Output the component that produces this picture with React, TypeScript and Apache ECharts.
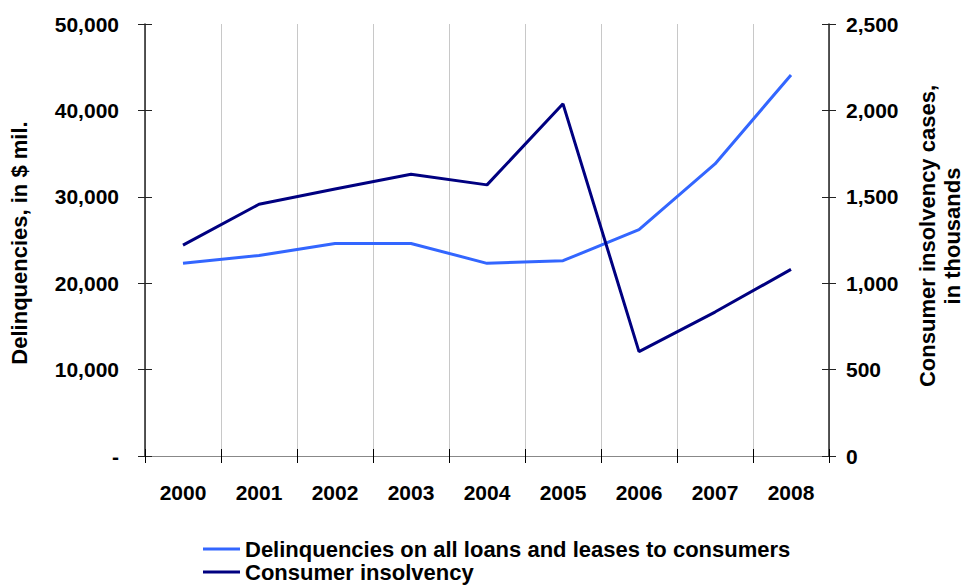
import React, { useEffect, useRef } from 'react';
import * as echarts from 'echarts';

const years = ['2000', '2001', '2002', '2003', '2004', '2005', '2006', '2007', '2008'];
const delinquencies = [22300, 23200, 24600, 24600, 22300, 22600, 26200, 33800, 44100];
const insolvency = [1220, 1457, 1545, 1630, 1569, 2038, 604, 833, 1080];
const seriesNames = ['Delinquencies on all loans and leases to consumers', 'Consumer insolvency'];
const leftAxisTitle = 'Delinquencies, in $ mil.';
const rightAxisTitle = 'Consumer insolvency cases,\nin thousands';

const FONT = 'Liberation Sans, Arial, sans-serif';

export default function App() {
  const ref = useRef<HTMLDivElement>(null);
  useEffect(() => {
    if (!ref.current) return;
    const chart = echarts.init(ref.current, undefined, { renderer: 'svg' });
    const fmt = (v: number) => v.toLocaleString('en-US');
    const labelStyle = { color: '#000', fontFamily: FONT, fontWeight: 'bold' as const, fontSize: 21 };
    chart.setOption({
      animation: false,
      backgroundColor: '#fff',
      grid: { left: 145, right: 137, top: 24, bottom: 129, containLabel: false },
      legend: {
        orient: 'vertical',
        left: 203,
        top: 538,
        icon: 'rect',
        itemWidth: 37,
        itemHeight: 3,
        itemGap: 1,
        padding: 0,
        textStyle: { color: '#000', fontFamily: FONT, fontWeight: 'bold', fontSize: 22, lineHeight: 22 },
        data: seriesNames,
      },
      xAxis: [
        {
          type: 'category',
          data: years,
          position: 'bottom',
          boundaryGap: true,
          axisLine: { show: true, lineStyle: { color: '#000', width: 1 } },
          axisTick: { show: true, inside: false, length: 7, lineStyle: { color: '#000' } },
          axisLabel: { ...labelStyle, margin: 26 },
          splitLine: { show: true, interval: 0, lineStyle: { color: '#c8c8c8', width: 1 } },
        },
        {
          type: 'category',
          data: years,
          position: 'bottom',
          boundaryGap: true,
          axisLine: { show: false },
          axisTick: { show: true, inside: true, length: 7, lineStyle: { color: '#000' } },
          axisLabel: { show: false },
          splitLine: { show: false },
        },
        {
          type: 'category',
          data: years,
          position: 'top',
          boundaryGap: true,
          axisLine: { show: true, lineStyle: { color: '#888', width: 1 } },
          axisTick: { show: false },
          axisLabel: { show: false },
          splitLine: { show: false },
        },
      ],
      yAxis: [
        {
          type: 'value',
          position: 'left',
          min: 0,
          max: 50000,
          interval: 10000,
          axisLine: { show: true, lineStyle: { color: '#222', width: 1.5 } },
          axisTick: { show: true, inside: false, length: 7, lineStyle: { color: '#222' } },
          axisLabel: { ...labelStyle, margin: 26, formatter: (v: number) => (v === 0 ? '-' : fmt(v)) },
          splitLine: { show: false },
        },
        {
          type: 'value',
          position: 'left',
          min: 0,
          max: 50000,
          interval: 10000,
          axisLine: { show: false },
          axisTick: { show: true, inside: true, length: 7, lineStyle: { color: '#222' } },
          axisLabel: { show: false },
          splitLine: { show: false },
        },
        {
          type: 'value',
          position: 'right',
          min: 0,
          max: 2500,
          interval: 500,
          axisLine: { show: true, lineStyle: { color: '#222', width: 1.5 } },
          axisTick: { show: true, inside: false, length: 7, lineStyle: { color: '#222' } },
          axisLabel: { ...labelStyle, margin: 17, formatter: (v: number) => fmt(v) },
          splitLine: { show: false },
        },
        {
          type: 'value',
          position: 'right',
          min: 0,
          max: 2500,
          interval: 500,
          axisLine: { show: false },
          axisTick: { show: true, inside: true, length: 7, lineStyle: { color: '#222' } },
          axisLabel: { show: false },
          splitLine: { show: false },
        },
      ],
      graphic: [
        {
          type: 'text',
          x: 19,
          y: 243,
          rotation: Math.PI / 2,
          style: {
            text: leftAxisTitle,
            fill: '#000',
            fontFamily: FONT,
            fontWeight: 'bold',
            fontSize: 22,
            align: 'center',
            verticalAlign: 'middle',
          },
        },
        {
          type: 'text',
          x: 940,
          y: 236,
          rotation: Math.PI / 2,
          style: {
            text: rightAxisTitle,
            fill: '#000',
            fontFamily: FONT,
            fontWeight: 'bold',
            fontSize: 22,
            lineHeight: 25,
            align: 'center',
            verticalAlign: 'middle',
          },
        },
      ],
      series: [
        {
          name: seriesNames[0],
          type: 'line',
          xAxisIndex: 0,
          yAxisIndex: 0,
          data: delinquencies,
          symbol: 'none',
          lineStyle: { color: '#3366FF', width: 3 },
          itemStyle: { color: '#3366FF' },
        },
        {
          name: seriesNames[1],
          type: 'line',
          xAxisIndex: 0,
          yAxisIndex: 2,
          data: insolvency,
          symbol: 'none',
          lineStyle: { color: '#000080', width: 3 },
          itemStyle: { color: '#000080' },
        },
      ],
    });
    return () => chart.dispose();
  }, []);
  return <div ref={ref} style={{ position: 'fixed', left: 0, top: 0, width: 966, height: 585 }} />;
}
